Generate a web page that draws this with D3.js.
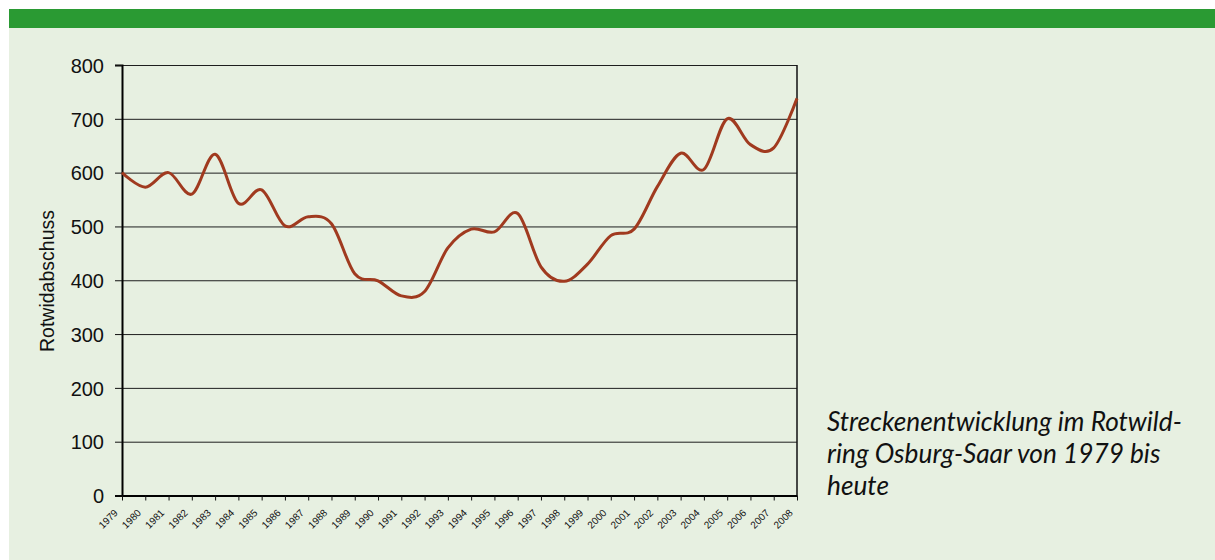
<!DOCTYPE html>
<html>
<head>
<meta charset="utf-8">
<script src="https://cdn.jsdelivr.net/npm/d3@7"></script>
<style>
  html, body { margin: 0; padding: 0; background: #fff; }
  svg { display: block; }
  .grid line { stroke: #1e1e1e; stroke-width: 1; }
  .grid path { display: none; }
  .y-axis text { font-family: "Liberation Sans", Arial, sans-serif; font-size: 20px; fill: #111; }
  .x-axis text { font-family: "Liberation Sans", Arial, sans-serif; font-size: 10px; fill: #111; }
  .path-line { fill: none; stroke: #a03a1f; stroke-width: 3; stroke-linejoin: round; }
</style>
</head>
<body>
<svg class="line-chart-svg" width="1215" height="560"></svg>
<script>
// Rotwildabschuss per year
const years = ['1979', '1980', '1981', '1982', '1983', '1984', '1985', '1986', '1987', '1988',
  '1989', '1990', '1991', '1992', '1993', '1994', '1995', '1996', '1997', '1998',
  '1999', '2000', '2001', '2002', '2003', '2004', '2005', '2006', '2007', '2008'];
const abschuss = [600, 573, 600, 560, 634, 543, 568, 501, 518, 505,
  412, 399, 371, 379, 460, 495, 490, 524, 425, 398,
  430, 483, 495, 574, 636, 606, 700, 652, 646, 738];
const yTicks = [0, 100, 200, 300, 400, 500, 600, 700, 800];
const yTitle = 'Rotwidabschuss';
const captionLines = ['Streckenentwicklung im Rotwild-', 'ring Osburg-Saar von 1979 bis', 'heute'];

const recordData = years.map((y, i) => ({ year: y, value: abschuss[i] }));

const margin = { top: 65, right: 418, bottom: 64.5, left: 122 };
const svg = d3.select('.line-chart-svg');
const W = 1215, H = 560;
const width = W - margin.left - margin.right;
const height = H - margin.top - margin.bottom;

// background + green band
svg.append('rect').attr('x', 9).attr('y', 9).attr('width', W - 9).attr('height', H - 9).attr('fill', '#e7f0e1');
svg.append('rect').attr('x', 9).attr('y', 9).attr('width', W - 9).attr('height', 19).attr('fill', '#2a9a33');

const xScale = d3.scalePoint().domain(years).range([0, width]);
const yScale = d3.scaleLinear().domain([0, 800]).range([height, 0]);

const g = svg.append('g').attr('transform', `translate(${margin.left}, ${margin.top})`);

// grid lines
g.append('g')
  .attr('class', 'grid')
  .call(d3.axisLeft(yScale).tickValues(yTicks.slice(1)).tickSize(-width).tickFormat(''));

// right border
g.append('line')
  .attr('x1', width).attr('x2', width).attr('y1', 0).attr('y2', height)
  .attr('stroke', '#111').attr('stroke-width', 1.5);

// y axis
const yAxis = g.append('g')
  .attr('class', 'y-axis')
  .call(d3.axisLeft(yScale).tickValues(yTicks).tickSize(7).tickPadding(11));
yAxis.select('.domain').attr('stroke', '#000').attr('stroke-width', 2);
yAxis.selectAll('.tick line').attr('stroke', '#111');
yAxis.selectAll('.tick text').attr('dy', '0.36em');

// x axis
const xAxis = g.append('g')
  .attr('class', 'x-axis')
  .attr('transform', `translate(0, ${height})`)
  .call(d3.axisBottom(xScale).tickSize(5).tickSizeOuter(0));
xAxis.select('.domain').attr('stroke', '#000').attr('stroke-width', 2);
xAxis.selectAll('.tick line').attr('stroke', '#111');
xAxis.selectAll('.tick text')
  .attr('text-anchor', 'end')
  .attr('dy', 0)
  .attr('y', 0)
  .attr('transform', 'translate(-4, 18) rotate(-45)');

// line
const line = d3.line()
  .x((d) => xScale(d.year))
  .y((d) => yScale(d.value))
  .curve(d3.curveCatmullRom.alpha(0));

g.append('path')
  .datum(recordData)
  .attr('class', 'path-line')
  .attr('d', line);

// y title
svg.append('text')
  .attr('transform', 'translate(54, 281) rotate(-90)')
  .attr('text-anchor', 'middle')
  .attr('font-family', '"Liberation Sans", Arial, sans-serif')
  .attr('font-size', 19.5)
  .attr('fill', '#111')
  .text(yTitle);

// caption
const cap = svg.append('g').attr('font-family', 'Lato, "Open Sans", sans-serif')
  .attr('font-style', 'italic').attr('fill', '#111');
const capText = cap.selectAll('text')
  .data(captionLines)
  .enter()
  .append('text')
  .attr('x', 827)
  .attr('y', (d, i) => 431 + i * 32)
  .attr('font-size', 22)
  .text((d) => d);
const w0 = capText.node().getComputedTextLength();
capText.attr('font-size', 22 * 355 / w0);
</script>
</body>
</html>
